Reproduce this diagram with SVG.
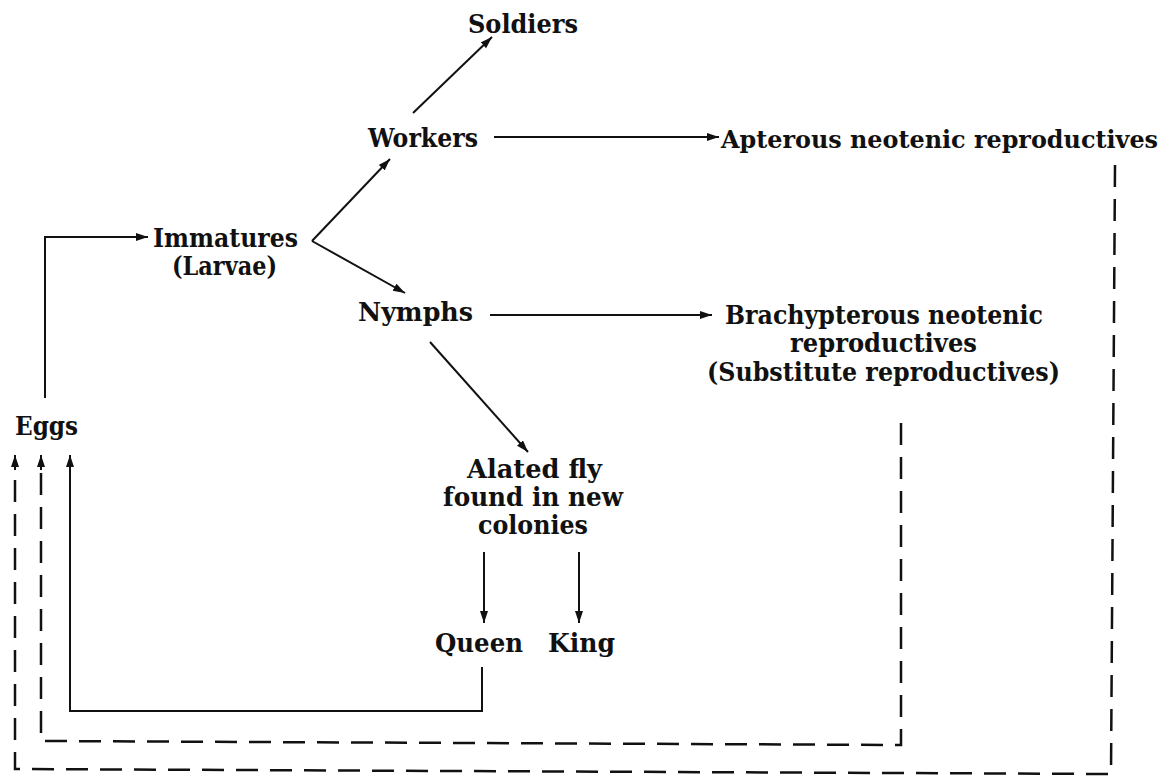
<svg xmlns="http://www.w3.org/2000/svg" width="1172" height="778" viewBox="0 0 1172 778">
<style>
text{font-family:"DejaVu Serif","Liberation Serif",serif;font-weight:bold;font-size:25.5px;fill:#111}
.c{fill:none;stroke:#111;stroke-width:2}
.d{fill:none;stroke:#111;stroke-width:2.5;stroke-dasharray:22 12}
</style>
<defs>
<marker id="ah" markerUnits="userSpaceOnUse" markerWidth="13" markerHeight="9" refX="12" refY="4" orient="auto">
<path d="M0,0 L12,4 L0,8 z" fill="#111"/>
</marker>
</defs>
<rect width="1172" height="778" fill="#fff"/>
<g id="connectors">
<path class="c" d="M45 398 V237 H148" marker-end="url(#ah)"/>
<path class="c" d="M312 241 L390 159" marker-end="url(#ah)"/>
<path class="c" d="M312 241 L405 293" marker-end="url(#ah)"/>
<path class="c" d="M413 113 L492 37" marker-end="url(#ah)"/>
<path class="c" d="M494 137 H719" marker-end="url(#ah)"/>
<path class="c" d="M490 315 H712" marker-end="url(#ah)"/>
<path class="c" d="M430 342 L528 452" marker-end="url(#ah)"/>
<path class="c" d="M484 552 V623" marker-end="url(#ah)"/>
<path class="c" d="M579 552 V623" marker-end="url(#ah)"/>
<path class="c" d="M482 667 V711 H70 V455" marker-end="url(#ah)"/>
<path class="d" d="M901 423 V745 L41 741 V470"/>
<path class="c" d="M41 470 V455" marker-end="url(#ah)"/>
<path class="d" d="M1115 165 L1111 774 L15 769 V470"/>
<path class="c" d="M15 470 V455" marker-end="url(#ah)"/>
</g>
<g id="soldiers"><text x="468" y="33" textLength="110" lengthAdjust="spacingAndGlyphs">Soldiers</text></g>
<g id="workers"><text x="368" y="147" textLength="110" lengthAdjust="spacingAndGlyphs">Workers</text></g>
<g id="apterous"><text x="721" y="148" style="font-size:23.5px" textLength="437" lengthAdjust="spacingAndGlyphs">Apterous neotenic reproductives</text></g>
<g id="immatures">
<text x="153" y="247" textLength="145" lengthAdjust="spacingAndGlyphs">Immatures</text>
<text x="172" y="275" textLength="105" lengthAdjust="spacingAndGlyphs">(Larvae)</text>
</g>
<g id="nymphs"><text x="358" y="321" textLength="115" lengthAdjust="spacingAndGlyphs">Nymphs</text></g>
<g id="brachypterous">
<text x="725" y="324" textLength="318" lengthAdjust="spacingAndGlyphs">Brachypterous neotenic</text>
<text x="790" y="352" textLength="187" lengthAdjust="spacingAndGlyphs">reproductives</text>
<text x="707" y="381" textLength="353" lengthAdjust="spacingAndGlyphs">(Substitute reproductives)</text>
</g>
<g id="eggs"><text x="15" y="435" textLength="63" lengthAdjust="spacingAndGlyphs">Eggs</text></g>
<g id="alated">
<text x="467" y="478" textLength="135" lengthAdjust="spacingAndGlyphs">Alated fly</text>
<text x="443" y="506" textLength="180" lengthAdjust="spacingAndGlyphs">found in new</text>
<text x="478" y="534" textLength="110" lengthAdjust="spacingAndGlyphs">colonies</text>
</g>
<g id="queen"><text x="435" y="652" textLength="88" lengthAdjust="spacingAndGlyphs">Queen</text></g>
<g id="king"><text x="548" y="652" textLength="67" lengthAdjust="spacingAndGlyphs">King</text></g>
</svg>
